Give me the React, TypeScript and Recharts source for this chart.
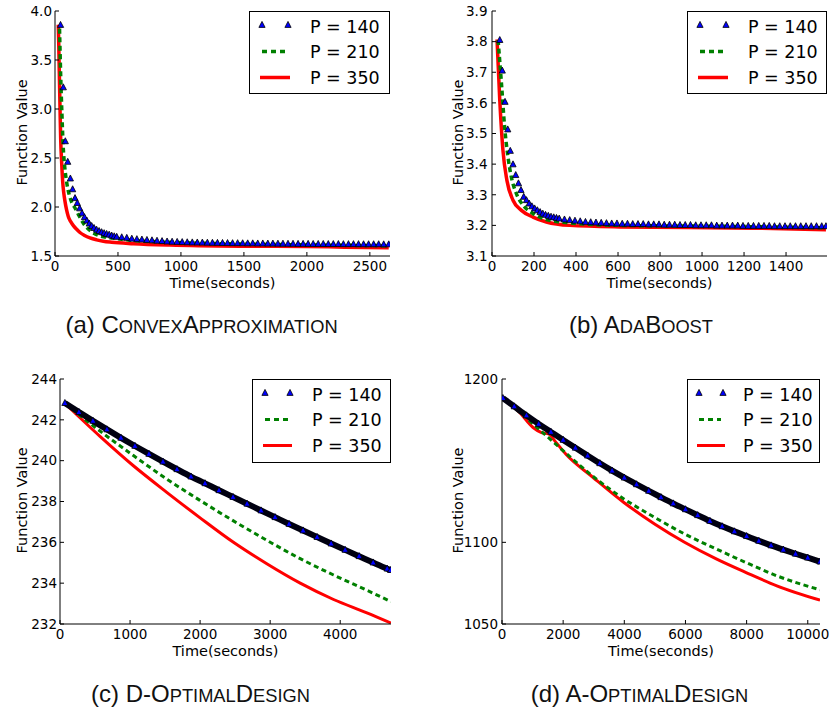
import React from 'react';
import { LineChart, Line, XAxis, YAxis } from 'recharts';

const FONT = 'DejaVu Sans, sans-serif';
const CAP_FONT = 'Liberation Sans, Arial, sans-serif';

// ---------- (a) ConvexApproximation ----------
const aXTicks = [0, 500, 1000, 1500, 2000, 2500];
const aYTicks = [1.5, 2.0, 2.5, 3.0, 3.5, 4.0];
const a140T = [44, 66, 82, 101, 122, 140, 159, 177, 196, 215, 234, 253, 272, 291, 310, 330, 350, 370, 390, 410, 430, 450, 470, 490,
  530, 570, 610, 650, 690, 730, 770, 810, 850, 890, 930, 970, 1010, 1050, 1090, 1130, 1170, 1210, 1250, 1290, 1330, 1370, 1410, 1450,
  1490, 1530, 1570, 1610, 1650, 1690, 1730, 1770, 1810, 1850, 1890, 1930, 1970, 2010, 2050, 2090, 2130, 2170, 2210, 2250, 2290, 2330,
  2370, 2410, 2450, 2490, 2530, 2570, 2610, 2650];
const a140V = [3.857, 3.22, 2.67, 2.46, 2.29, 2.18, 2.09, 2.04, 1.985, 1.935, 1.895, 1.86, 1.83, 1.805, 1.785, 1.768, 1.754, 1.742, 1.732, 1.724, 1.717, 1.708, 1.7, 1.695,
  1.69, 1.684, 1.676, 1.671, 1.667, 1.663, 1.659, 1.655, 1.651, 1.647, 1.645, 1.643, 1.641, 1.639, 1.638, 1.637, 1.636, 1.635, 1.634, 1.633,
  1.632, 1.631, 1.63, 1.63, 1.629, 1.628, 1.628, 1.627, 1.627, 1.626, 1.626, 1.625, 1.625, 1.624, 1.624, 1.623, 1.623, 1.623, 1.622, 1.622,
  1.622, 1.621, 1.621, 1.621, 1.62, 1.62, 1.62, 1.62, 1.619, 1.619, 1.619, 1.619, 1.618, 1.618];
const a210T = [36, 45, 55, 65, 78, 93, 114, 132, 159, 185, 225, 278, 357, 490, 648, 886, 1200, 1600, 2000, 2400, 2650];
const a210V = [3.82, 3.35, 2.95, 2.62, 2.4, 2.25, 2.12, 2.05, 1.99, 1.925, 1.835, 1.76, 1.705, 1.677, 1.656, 1.641, 1.629, 1.62, 1.613, 1.608, 1.605];
const a350T = [26, 30, 34, 40, 45, 53, 61, 70, 79, 92, 106, 125, 146, 170, 198, 235, 278, 330, 384, 450, 622, 913, 1500, 2000, 2300, 2650];
const a350V = [3.86, 3.65, 3.38, 3.0, 2.7, 2.45, 2.26, 2.14, 2.06, 1.97, 1.9, 1.85, 1.81, 1.775, 1.74, 1.71, 1.685, 1.665, 1.65, 1.64, 1.626, 1.612, 1.6, 1.597, 1.59, 1.585];

// ---------- (b) AdaBoost ----------
const bXTicks = [0, 200, 400, 600, 800, 1000, 1200, 1400];
const bYTicks = [3.1, 3.2, 3.3, 3.4, 3.5, 3.6, 3.7, 3.8, 3.9];
const b140T = [37, 49, 62, 75, 87, 100, 113, 126, 138, 151, 164, 177, 190, 203, 216, 229, 242, 255, 268, 281, 294, 307, 320,
  345, 370, 395, 420, 445, 470, 495, 520, 545, 570, 595, 620, 645, 670, 695, 720, 745, 770, 795, 820, 845, 870, 895, 920, 945, 970,
  995, 1020, 1045, 1070, 1095, 1120, 1145, 1170, 1195, 1220, 1245, 1270, 1295, 1320, 1345, 1370, 1395, 1420, 1445, 1470, 1495, 1520,
  1545, 1570, 1590];
const b140V = [3.805, 3.705, 3.603, 3.513, 3.443, 3.399, 3.364, 3.337, 3.315, 3.293, 3.282, 3.271, 3.262, 3.255, 3.249, 3.243, 3.238, 3.234, 3.231, 3.228, 3.226, 3.224, 3.222,
  3.219, 3.217, 3.215, 3.213, 3.211, 3.21, 3.209, 3.208, 3.207, 3.206, 3.206, 3.205, 3.205, 3.204, 3.204, 3.204, 3.203, 3.203, 3.203, 3.202,
  3.202, 3.202, 3.201, 3.201, 3.201, 3.2, 3.2, 3.2, 3.2, 3.199, 3.199, 3.199, 3.199, 3.199, 3.198, 3.198, 3.198, 3.198, 3.198, 3.198,
  3.197, 3.197, 3.197, 3.197, 3.197, 3.197, 3.197, 3.197, 3.197, 3.197, 3.197];
const b210T = [29, 45, 60, 76, 92, 116, 148, 195, 259, 370, 608, 1084, 1590];
const b210V = [3.805, 3.664, 3.522, 3.424, 3.358, 3.304, 3.266, 3.239, 3.219, 3.208, 3.2, 3.197, 3.192];
const b350T = [24, 37, 52, 71, 100, 140, 195, 259, 370, 608, 1243, 1590];
const b350V = [3.807, 3.609, 3.446, 3.347, 3.282, 3.249, 3.227, 3.211, 3.2, 3.195, 3.191, 3.186];

// ---------- (c) D-OptimalDesign ----------
const cXTicks = [0, 1000, 2000, 3000, 4000];
const cYTicks = [232, 234, 236, 238, 240, 242, 244];
const c140T = [70, 270, 470, 670, 870, 1070, 1270, 1470, 1670, 1870, 2070, 2270, 2470, 2670, 2870, 3070, 3270, 3470, 3670, 3870, 4070, 4270, 4470, 4670, 4720];
const c140V = [242.82, 242.38, 241.95, 241.53, 241.12, 240.72, 240.33, 239.95, 239.58, 239.22, 238.89, 238.55, 238.22, 237.89, 237.56, 237.23, 236.9, 236.58, 236.26, 235.94, 235.63, 235.32, 235.01, 234.71, 234.64];
const c210T = [71, 571, 1048, 1524, 2000, 2476, 2952, 3429, 3905, 4381, 4724];
const c210V = [242.8, 241.45, 240.25, 239.1, 238.05, 237.05, 236.1, 235.2, 234.4, 233.65, 233.1];
const c350T = [71, 571, 1048, 1524, 2000, 2476, 2952, 3429, 3905, 4381, 4724];
const c350V = [242.8, 241.19, 239.75, 238.45, 237.2, 236.0, 234.95, 234.0, 233.2, 232.55, 232.05];

// ---------- (d) A-OptimalDesign ----------
const dXTicks = [0, 2000, 4000, 6000, 8000, 10000];
const dYTicks = [1050, 1100, 1200];
const d140T = [30, 400, 800, 1200, 1600, 2000, 2400, 2800, 3200, 3600, 4000, 4400, 4800, 5200, 5600, 6000, 6400, 6800, 7200, 7600, 8000, 8400, 8800, 9200, 9600, 10000, 10400];
const d140V = [1188.3, 1183.2, 1177.7, 1172.5, 1167.6, 1162.7, 1157.9, 1153.1, 1148.4, 1143.9, 1139.6, 1135.5, 1131.5, 1127.6, 1123.8, 1120.2, 1116.6, 1113.1, 1109.8, 1106.7, 1103.8, 1100.9, 1098.1, 1095.5, 1093.0, 1090.6, 1088.2];
const d210T = [33, 576, 1235, 1671, 2108, 2981, 3986, 5002, 5984, 7023, 7983, 8988, 10400];
const d210V = [1188.2, 1179.8, 1168.8, 1161.6, 1154.3, 1140.3, 1126.6, 1115.2, 1105.0, 1095.8, 1087.6, 1079.5, 1070.9];
const d350T = [33, 576, 1015, 1290, 1540, 1726, 2108, 2981, 3986, 5002, 5984, 7023, 7983, 8988, 10400];
const d350V = [1188.2, 1179.5, 1170.3, 1167.2, 1166.2, 1162.1, 1153.6, 1139.7, 1124.4, 1111.1, 1099.9, 1089.7, 1081.5, 1073.4, 1064.6];

const seriesNames = ['P = 140', 'P = 210', 'P = 350'];

const zip = (t: number[], v: number[]) => t.map((x, i) => ({ t: x, v: v[i] }));

const Tri = ({ cx, cy }: { cx: number; cy: number }) => (
  <polygon
    points={`${cx},${cy - 3.6} ${cx - 3.1},${cy + 2.4} ${cx + 3.1},${cy + 2.4}`}
    fill="#0000ff"
    stroke="#000"
    strokeWidth={0.8}
  />
);

type Cfg = {
  box: [number, number, number, number];
  xDomain: [number, number];
  xTicks: number[];
  yDomain: [number, number];
  yTicks: number[];
  yFmt: (v: number) => string;
  s140: { t: number; v: number }[];
  s210: { t: number; v: number }[];
  s350: { t: number; v: number }[];
  band: boolean;
  lw: number;
  yGap: number;
};

const ML = 60, MT = 15, MR = 10, MB = 45;
const TICK_FS = 13.5;
const LABEL_FS = 14.5;
const LEGEND_FS = 17.5;

function Panel({ cfg }: { cfg: Cfg }) {
  const [L, T, R, B] = cfg.box;
  const pw = R - L;
  const ph = B - T;
  const tickText = { fontFamily: FONT, fontSize: TICK_FS, fill: '#000' };
  const bottomTick = (p: any) => (
    <g>
      <line x1={p.x} x2={p.x} y1={p.y} y2={p.y - 4} stroke="#000" strokeWidth={1} />
      <text x={p.x} y={p.y + 14.5} textAnchor="middle" {...tickText}>{String(p.payload.value)}</text>
    </g>
  );
  const topTick = (p: any) => (
    <line x1={p.x} x2={p.x} y1={p.y} y2={p.y + 4} stroke="#000" strokeWidth={1} />
  );
  const leftTick = (p: any) => (
    <g>
      <line x1={p.x} x2={p.x + 4} y1={p.y} y2={p.y} stroke="#000" strokeWidth={1} />
      <text x={p.x - cfg.yGap} y={p.y + 4.8} textAnchor="end" {...tickText}>{cfg.yFmt(p.payload.value)}</text>
    </g>
  );
  const rightTick = (p: any) => (
    <line x1={p.x} x2={p.x - 4} y1={p.y} y2={p.y} stroke="#000" strokeWidth={1} />
  );
  const axisLine = { stroke: '#000', strokeWidth: 1 };
  return (
    <div style={{ position: 'absolute', left: L - ML, top: T - MT }}>
      <LineChart width={pw + ML + MR} height={ph + MT + MB} margin={{ top: MT, right: MR, bottom: 0, left: 0 }}>
        <XAxis xAxisId="b" type="number" dataKey="t" domain={cfg.xDomain} ticks={cfg.xTicks} interval={0}
          height={MB} tickSize={0} tickMargin={0} tickLine={false} axisLine={axisLine} tick={bottomTick} allowDataOverflow />
        <XAxis xAxisId="t" orientation="top" type="number" dataKey="t" domain={cfg.xDomain} ticks={cfg.xTicks} interval={0}
          height={0} tickSize={0} tickMargin={0} tickLine={false} axisLine={axisLine} tick={topTick} allowDataOverflow />
        <YAxis yAxisId="l" type="number" domain={cfg.yDomain} ticks={cfg.yTicks} interval={0}
          width={ML} tickSize={0} tickMargin={0} tickLine={false} axisLine={axisLine} tick={leftTick} allowDataOverflow />
        <YAxis yAxisId="r" orientation="right" type="number" domain={cfg.yDomain} ticks={cfg.yTicks} interval={0}
          width={0} tickSize={0} tickMargin={0} tickLine={false} axisLine={axisLine} tick={rightTick} allowDataOverflow />
        <Line xAxisId="b" yAxisId="l" data={cfg.s350} dataKey="v" name={seriesNames[2]} type="monotone"
          stroke="#ff0000" strokeWidth={cfg.lw} dot={false} activeDot={false} isAnimationActive={false} />
        <Line xAxisId="b" yAxisId="l" data={cfg.s210} dataKey="v" name={seriesNames[1]} type="monotone"
          stroke="#008000" strokeWidth={cfg.lw} strokeDasharray="5 3.5" dot={false} activeDot={false} isAnimationActive={false} />
        <Line xAxisId="b" yAxisId="l" data={cfg.s140} dataKey="v" name={seriesNames[0]} type="monotone"
          stroke={cfg.band ? '#000010' : 'transparent'} strokeWidth={cfg.band ? 6 : 0}
          dot={(p: any) => <Tri key={`d${p.index}`} cx={p.cx} cy={p.cy} />} activeDot={false} isAnimationActive={false} />
      </LineChart>
    </div>
  );
}

const cfgA: Cfg = {
  box: [55, 11, 390, 256], xDomain: [0, 2660], xTicks: aXTicks, yDomain: [1.5, 4.0], yTicks: aYTicks,
  yFmt: (v) => v.toFixed(1), s140: zip(a140T, a140V), s210: zip(a210T, a210V), s350: zip(a350T, a350V), band: false, lw: 3.5, yGap: 3,
};
const cfgB: Cfg = {
  box: [492, 11, 827, 256], xDomain: [0, 1595], xTicks: bXTicks, yDomain: [3.1, 3.9], yTicks: bYTicks,
  yFmt: (v) => v.toFixed(1), s140: zip(b140T, b140V), s210: zip(b210T, b210V), s350: zip(b350T, b350V), band: false, lw: 3.5, yGap: 4.5,
};
const cfgC: Cfg = {
  box: [60, 379, 391, 624], xDomain: [0, 4725], xTicks: cXTicks, yDomain: [232, 244], yTicks: cYTicks,
  yFmt: (v) => String(v), s140: zip(c140T, c140V), s210: zip(c210T, c210V), s350: zip(c350T, c350V), band: true, lw: 3, yGap: 3,
};
const cfgD: Cfg = {
  box: [502, 379, 820, 624], xDomain: [0, 10400], xTicks: dXTicks, yDomain: [1050, 1200], yTicks: dYTicks,
  yFmt: (v) => String(v), s140: zip(d140T, d140V), s210: zip(d210T, d210V), s350: zip(d350T, d350V), band: true, lw: 3, yGap: 4,
};

type Leg = { x: number; y: number; w: number; h: number; tx: number; k1: number; k2: number; lw: number };

function LegendBox({ l }: { l: Leg }) {
  return (
    <g transform={`translate(${l.x},${l.y})`}>
      <rect x={0.5} y={0.5} width={l.w - 1} height={l.h - 1} fill="#fff" stroke="#000" strokeWidth={1} />
      <Tri cx={l.k1 + 2} cy={14} />
      <Tri cx={l.k2 - 2} cy={14} />
      <line x1={l.k1 + 2} x2={l.k2 - 4} y1={40.5} y2={40.5} stroke="#008000" strokeWidth={l.lw} strokeDasharray="5 4" />
      <line x1={l.k1} x2={l.k2} y1={66.5} y2={66.5} stroke="#ff0000" strokeWidth={l.lw} />
      {seriesNames.map((n, i) => (
        <text key={n} x={l.tx} y={21.8 + i * 25.5} fontFamily={FONT} fontSize={LEGEND_FS} fill="#000">{n}</text>
      ))}
    </g>
  );
}

const legends: Leg[] = [
  { x: 249, y: 11, w: 141, h: 83, tx: 61, k1: 11, k2: 41, lw: 3.5 },
  { x: 687, y: 11, w: 140, h: 83, tx: 61, k1: 11, k2: 41, lw: 3.5 },
  { x: 252, y: 379, w: 139, h: 84, tx: 60, k1: 11, k2: 40, lw: 3 },
  { x: 687, y: 379, w: 133, h: 84, tx: 56, k1: 10, k2: 38, lw: 3 },
];

type Cap = { cx: number; y: number; parts: [string, boolean][] };
const captions: Cap[] = [
  { cx: 201.5, y: 333, parts: [['(a) ', true], ['C', true], ['ONVEX', false], ['A', true], ['PPROXIMATION', false]] },
  { cx: 641, y: 333, parts: [['(b) ', true], ['A', true], ['DA', false], ['B', true], ['OOST', false]] },
  { cx: 200.5, y: 702, parts: [['(c) ', true], ['D-O', true], ['PTIMAL', false], ['D', true], ['ESIGN', false]] },
  { cx: 639.5, y: 702, parts: [['(d) ', true], ['A-O', true], ['PTIMAL', false], ['D', true], ['ESIGN', false]] },
];

const cfgs = [cfgA, cfgB, cfgC, cfgD];
const yLabelOff = [28.3, 29, 33.3, 39];

export default function App() {
  return (
    <div style={{ position: 'absolute', left: 0, top: 0, width: 829, height: 713, background: '#fff', overflow: 'hidden' }}>
      {cfgs.map((c, i) => <Panel key={i} cfg={c} />)}
      <svg width={829} height={713} style={{ position: 'absolute', left: 0, top: 0, pointerEvents: 'none' }}>
        {cfgs.map((c, i) => {
          const [L, T, R, B] = c.box;
          const xB = L - yLabelOff[i];
          const yC = (T + B) / 2 - 1;
          return (
            <g key={i}>
              <text x={(L + R) / 2} y={B + 31.5} textAnchor="middle" fontFamily={FONT} fontSize={LABEL_FS} fill="#000">Time(seconds)</text>
              <text x={xB} y={yC} transform={`rotate(-90 ${xB} ${yC})`} textAnchor="middle" fontFamily={FONT} fontSize={LABEL_FS} fill="#000">Function Value</text>
            </g>
          );
        })}
        {legends.map((l, i) => <LegendBox key={i} l={l} />)}
        {captions.map((c, i) => (
          <text key={i} x={c.cx} y={c.y} textAnchor="middle" fontFamily={CAP_FONT} fill="#111">
            {c.parts.map(([s, big], j) => (
              <tspan key={j} fontSize={big ? 24 : 18.3}>{s}</tspan>
            ))}
          </text>
        ))}
      </svg>
    </div>
  );
}
